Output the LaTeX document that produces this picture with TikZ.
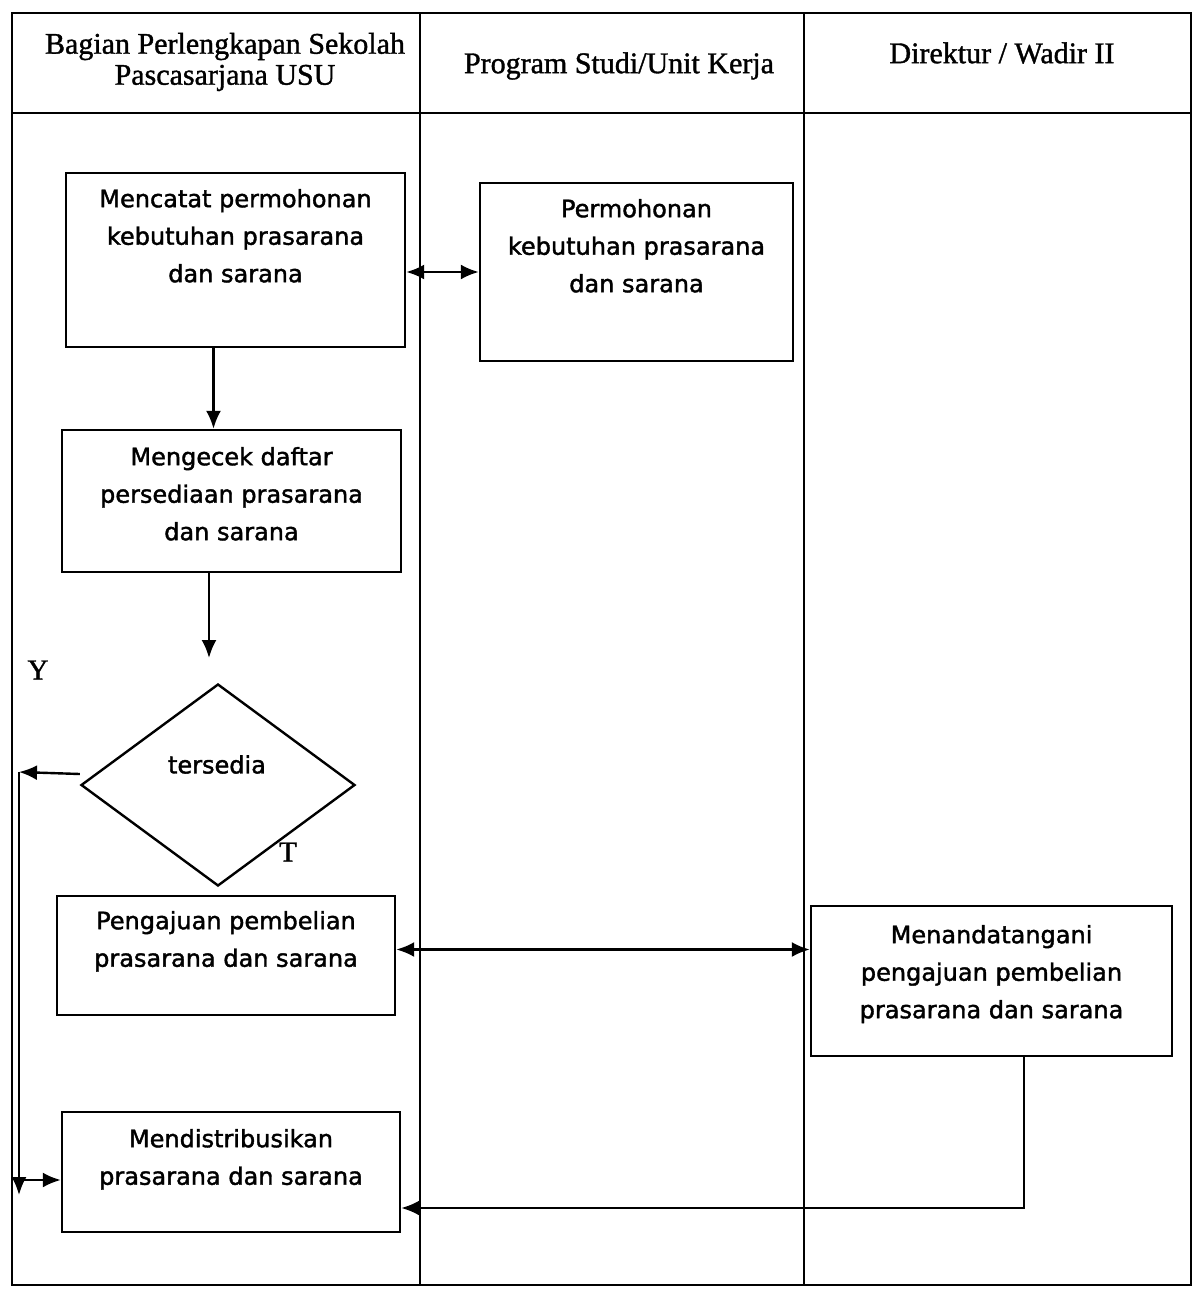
\documentclass[tikz,border=0pt]{standalone}
\usepackage{fontspec}
\setmainfont[BoldFont={Liberation Serif}, BoldFeatures={FakeBold=1.2}]{Liberation Serif}
\newfontfamily\boxfont[BoldFont={DejaVu Sans}, BoldFeatures={FakeBold=1.6}]{DejaVu Sans}
\usetikzlibrary{shapes.geometric,arrows.meta}
\begin{document}
\begin{tikzpicture}[x=1pt,y=-1pt,
  lane/.style={line width=2pt},
  box/.style={draw, line width=2.4pt, rectangle, inner sep=0pt},
  btext/.style={font={\boxfont\bfseries\fontsize{24}{37.5}\selectfont}, align=center, inner sep=0pt, anchor=north},
  htext/.style={font={\bfseries\fontsize{30}{31}\selectfont}, align=center, inner sep=0pt},
  conn/.style={line width=2.4pt, -{Latex[length=18pt,width=15pt]}},
  conn2/.style={line width=2.4pt, {Latex[length=18pt,width=15pt]}-{Latex[length=18pt,width=15pt]}},
  lbl/.style={font={\bfseries\fontsize{29}{30}\selectfont}, inner sep=0pt}
]
\useasboundingbox (0,0) rectangle (1193,1293);

% swimlanes
\draw[lane] (12,13) rectangle (1191,1285);
\draw[lane] (12,113) -- (1191,113);
\draw[lane] (420,13) -- (420,1285);
\draw[lane] (804,13) -- (804,1285);

\node[htext] (h1) at (225,62) {Bagian Perlengkapan Sekolah\\Pascasarjana USU};
\node[htext] (h2) at (619,66) {Program Studi/Unit Kerja};
\node[htext] (h3) at (1002,53) {Direktur / Wadir II};

% boxes
\node[box, minimum width=339pt, minimum height=174pt] (b1) at (235.5,260) {};
\node[btext] (t1) at ([yshift=-17pt]b1.north) {Mencatat permohonan\\kebutuhan prasarana\\dan sarana};

\node[box, minimum width=313pt, minimum height=178pt] (b2) at (636.5,272) {};
\node[btext] (t2) at ([yshift=-17pt]b2.north) {Permohonan\\kebutuhan prasarana\\dan sarana};

\node[box, minimum width=339pt, minimum height=142pt] (b3) at (231.5,501) {};
\node[btext] (t3) at ([yshift=-18pt]b3.north) {Mengecek daftar\\persediaan prasarana\\dan sarana};

\node[draw, diamond, line width=2.4pt, minimum width=274pt, minimum height=202pt, inner sep=0pt] (d) at (218,785) {};
\node[btext] (td) at (217,755) {tersedia};

\node[box, minimum width=338pt, minimum height=119pt] (b4) at (226,955.5) {};
\node[btext] (t4) at ([yshift=-16pt]b4.north) {Pengajuan pembelian\\prasarana dan sarana};

\node[box, minimum width=338pt, minimum height=120pt] (b5) at (231,1172) {};
\node[btext] (t5) at ([yshift=-18pt]b5.north) {Mendistribusikan\\prasarana dan sarana};

\node[box, minimum width=361pt, minimum height=150pt] (b6) at (991.5,981) {};
\node[btext] (t6) at ([yshift=-20pt]b6.north) {Menandatangani\\pengajuan pembelian\\prasarana dan sarana};

\node[lbl] (ly) at (38,670) {Y};
\node[lbl] (lt) at (288,852) {T};

% connectors
\draw[conn2] (b1.east |- b2.west) -- (b2.west);
\draw[conn] ([xshift=-22pt]b1.south) -- ([xshift=-22pt]b1.south |- b3.north);
\coordinate (c1) at (209,658);
\draw[conn] (b3.south -| c1) -- (c1);

\coordinate (vtop) at (19,772);
\coordinate (vbot) at (19,1195);
\coordinate (b5in) at ([yshift=-8pt]b5.west);
\draw[conn] ([yshift=11pt]d.west) -- (vtop);
\draw[conn] (vtop) -- (vbot);
\draw[conn] (vbot |- b5in) -- (b5in);

\draw[conn2] ([yshift=6pt]b4.east) -- ([yshift=6pt]b4.east -| b6.west);

\coordinate (k) at (1024,1208);
\draw[conn] (b6.south -| k) |- (b5.east |- k);
\end{tikzpicture}
\end{document}
